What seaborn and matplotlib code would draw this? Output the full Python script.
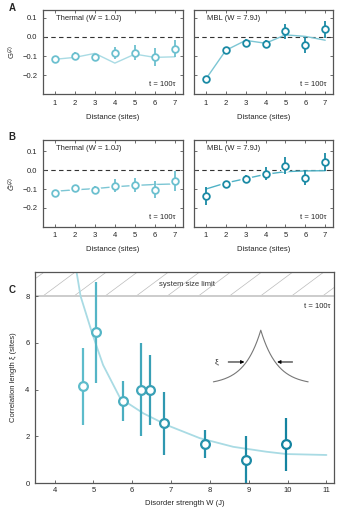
import numpy as np
import matplotlib.pyplot as plt
import seaborn as sns
import pandas as pd

# Data
sites = [1, 2, 3, 4, 5, 6, 7]

# panel A: G(2)
thermal_a = [-0.117, -0.100, -0.107, -0.084, -0.082, -0.105, -0.061]
thermal_a_err = [0.012, 0.022, 0.020, 0.033, 0.038, 0.046, 0.046]
thermal_a_theory = [-0.117, -0.107, -0.086, -0.137, -0.090, -0.107, -0.104]
mbl_a = [-0.219, -0.070, -0.030, -0.038, 0.030, -0.044, 0.040]
mbl_a_err = [0.012, 0.015, 0.018, 0.020, 0.040, 0.042, 0.044]
mbl_a_theory = [-0.220, -0.070, -0.018, -0.033, 0.011, 0.003, -0.017]

# panel B: G~(2)
thermal_b = [-0.119, -0.097, -0.103, -0.083, -0.078, -0.103, -0.058]
thermal_b_err = [0.015, 0.020, 0.020, 0.035, 0.037, 0.046, 0.055]
thermal_b_theory = [-0.112, -0.104, -0.098, -0.088, -0.081, -0.076, -0.073]
mbl_b = [-0.136, -0.071, -0.046, -0.019, 0.023, -0.041, 0.044]
mbl_b_err = [0.048, 0.015, 0.020, 0.035, 0.044, 0.040, 0.046]
mbl_b_theory = [-0.100, -0.068, -0.045, -0.022, -0.008, -0.004, -0.003]

# panel C: correlation length vs disorder
W_vals = [4.72, 5.08, 5.77, 6.22, 6.45, 6.82, 7.87, 8.92, 9.97]
xi_vals = [4.15, 6.45, 3.50, 4.00, 4.00, 2.55, 1.65, 1.00, 1.65]
xi_lo = [2.50, 4.30, 2.65, 2.00, 2.50, 1.20, 1.05, 0.00, 0.50]
xi_hi = [5.80, 8.60, 4.35, 6.00, 5.50, 3.90, 2.25, 2.00, 2.80]
fit_W = [4.55, 4.67, 4.97, 5.25, 5.69, 6.29, 6.89, 7.74, 8.60, 9.45, 9.97, 11.0]
fit_xi = [9.20, 8.00, 6.40, 5.05, 3.63, 2.98, 2.48, 1.92, 1.55, 1.34, 1.24, 1.20]

light = "#6cc0cf"
dark = "#1a8aa5"
theory_light = "#a9dbe4"
theory_mid = "#7cc6d4"
spine_col = "#555555"

sns.set_style("ticks")
plt.rcParams['font.family'] = ['Liberation Sans', 'DejaVu Sans']
plt.rcParams['font.size'] = 5.5
plt.rcParams['mathtext.fontset'] = 'custom'
plt.rcParams['mathtext.rm'] = 'Liberation Sans'
plt.rcParams['mathtext.it'] = 'Liberation Sans:italic'

fig = plt.figure(figsize=(3.41, 5.12), dpi=100)


def style_axes(ax, all_sides=True):
    for s in ax.spines.values():
        s.set_color(spine_col)
        s.set_linewidth(0.9)
    ax.tick_params(direction='in', length=2.5, width=0.6, color=spine_col,
                   labelsize=5.5, pad=4, top=all_sides, right=all_sides)


def corr_panel(ax, y, err, theory, col, line_col, title, ylim, halo=False):
    df = pd.DataFrame({"d": sites, "g": theory})
    sns.lineplot(data=df, x="d", y="g", ax=ax, color=line_col, lw=1.0, zorder=1)
    if halo:
        ax.scatter(sites, y, s=75, color="white", zorder=2, lw=0)
    ax.axhline(0, color="#333333", lw=0.8, dashes=(4, 3), zorder=0.5)
    ax.errorbar(sites, y, yerr=err, fmt='none', ecolor=col, elinewidth=1.3,
                capsize=0, zorder=3)
    ax.plot(sites, y, 'o', ms=4.8, mfc='white', mec=col, mew=1.3, zorder=4)
    ax.set_xlim(0.4, 7.4)
    ax.set_ylim(*ylim)
    ax.set_xticks(sites)
    ax.set_yticks([-0.2, -0.1, 0.0, 0.1])
    ax.set_xlabel("Distance (sites)", fontsize=5.5, labelpad=5)
    ax.set_ylabel("")
    ax.text(0.09, 0.9, title, transform=ax.transAxes, fontsize=5.5,
            va='center', ha='left')
    ax.text(0.95, 0.11, "t = 100\u03c4", transform=ax.transAxes, fontsize=5.5,
            va='center', ha='right')
    style_axes(ax)


# Panel A
axA1 = fig.add_axes([0.126, 0.816, 0.41, 0.164])
axA2 = fig.add_axes([0.569, 0.816, 0.408, 0.164])
corr_panel(axA1, thermal_a, thermal_a_err, thermal_a_theory, light, theory_light,
           "Thermal (W = 1.0J)", (-0.3, 0.14))
corr_panel(axA2, mbl_a, mbl_a_err, mbl_a_theory, dark, theory_mid,
           "MBL (W = 7.9J)", (-0.3, 0.14))
axA1.set_yticklabels(["\u22120.2", "\u22120.1", "0.0", "0.1"])
axA2.set_yticklabels([])
axA1.set_ylabel("G$^{(2)}$", fontsize=5.5, labelpad=3)

# Panel B
axB1 = fig.add_axes([0.126, 0.557, 0.41, 0.169])
axB2 = fig.add_axes([0.569, 0.557, 0.408, 0.169])
corr_panel(axB1, thermal_b, thermal_b_err, thermal_b_theory, light, theory_mid,
           "Thermal (W = 1.0J)", (-0.3, 0.158), halo=True)
corr_panel(axB2, mbl_b, mbl_b_err, mbl_b_theory, dark, "#4fb2c6",
           "MBL (W = 7.9J)", (-0.3, 0.158), halo=True)
axB1.set_yticklabels(["\u22120.2", "\u22120.1", "0.0", "0.1"])
axB2.set_yticklabels([])
axB1.set_ylabel("$\\tilde{G}^{(2)}$", fontsize=5.5, labelpad=3)

# Panel C
axC = fig.add_axes([0.103, 0.0566, 0.877, 0.413])
top = 9.05
axC.axhspan(8, top, facecolor="white", edgecolor="none", zorder=0)
for x0 in np.arange(2.9, 11.5, 0.8):
    axC.plot([x0, x0 + 0.85], [8, top], color="#bbbbbb", lw=0.5, zorder=0.2)
axC.axhline(8, color="#cccccc", lw=1.4, zorder=0.3)
axC.text(7.4, 8.5, "system size limit", fontsize=5.5, ha='center', va='center',
         color="#333333", zorder=0.4)
axC.text(11.1, 7.55, "t = 100\u03c4", fontsize=5.5, ha='right', va='center')

fit_df = pd.DataFrame({"W": fit_W, "xi": fit_xi})
sns.lineplot(data=fit_df, x="W", y="xi", ax=axC, color=theory_light, lw=1.3,
             zorder=1, sort=False)

pal = sns.blend_palette(["#5dbccb", "#1383a0"], n_colors=len(W_vals))
for w, v, lo, hi, c in zip(W_vals, xi_vals, xi_lo, xi_hi, pal):
    axC.errorbar([w], [v], yerr=[[v - lo], [hi - v]], fmt='none', ecolor=c,
                 elinewidth=1.6, capsize=0, zorder=3)
    axC.plot([w], [v], 'o', ms=6.3, mfc='white', mec=c, mew=1.6, zorder=4)

# schematic inset of exponential decay
u = np.linspace(-1, 1, 201)
shape = (np.exp(-np.abs(u) / 0.35) - np.exp(-1 / 0.35)) / (1 - np.exp(-1 / 0.35))
axC.plot(9.31 + 1.22 * u, 4.33 + 2.21 * shape, color="#777777", lw=0.8, zorder=2)
axC.annotate("", xy=(8.96, 5.18), xytext=(8.40, 5.18),
             arrowprops=dict(arrowstyle="-|>", color="black", lw=0.7,
                             mutation_scale=5))
axC.annotate("", xy=(9.66, 5.18), xytext=(10.20, 5.18),
             arrowprops=dict(arrowstyle="-|>", color="black", lw=0.7,
                             mutation_scale=5))
axC.text(8.18, 5.18, "\u03be", fontsize=6, ha='center', va='center')

axC.set_xlim(3.5, 11.2)
axC.set_ylim(0, top)
axC.set_xticks([4, 5, 6, 7, 8, 9, 10, 11])
axC.set_yticks([0, 2, 4, 6, 8])
style_axes(axC, all_sides=False)
axC.tick_params(axis='x', pad=3)
axC.set_xlabel("Disorder strength W (J)", fontsize=5.5, labelpad=4)
axC.set_ylabel("Correlation length \u03be (sites)", fontsize=5.5, labelpad=6)

# panel letters
fig.text(0.025, 0.984, "A", fontsize=7, fontweight='bold', va='center')
fig.text(0.025, 0.732, "B", fontsize=7, fontweight='bold', va='center')
fig.text(0.025, 0.433, "C", fontsize=7, fontweight='bold', va='center')

fig.savefig("out.png", dpi=100)
